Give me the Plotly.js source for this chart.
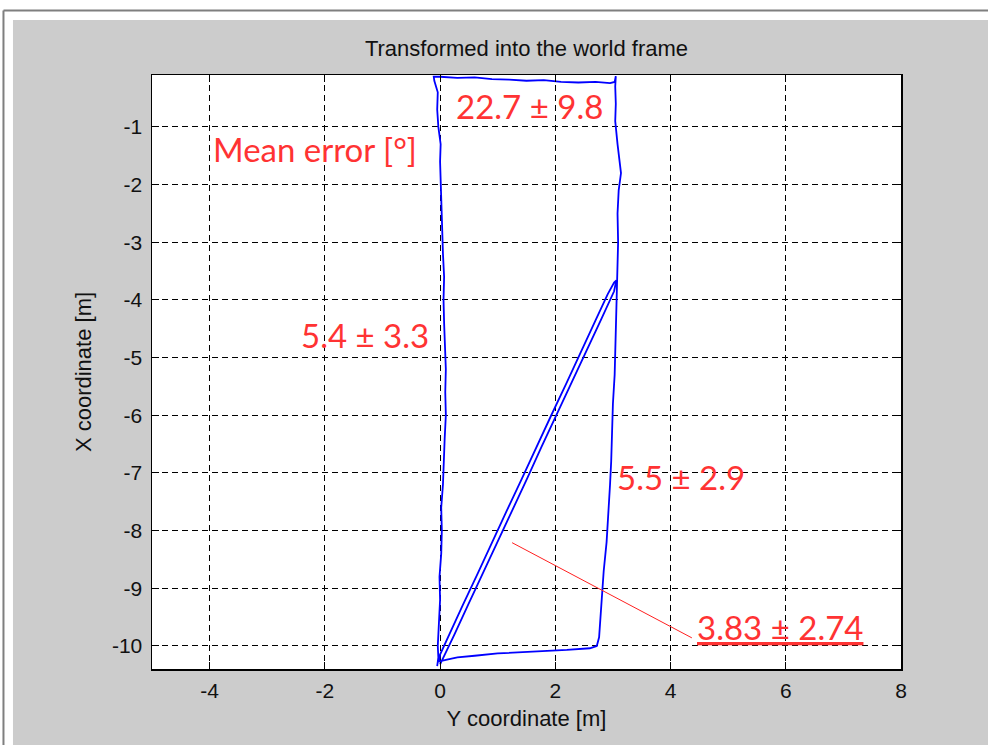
<!DOCTYPE html>
<html>
<head>
<meta charset="utf-8">
<script src="https://cdn.plot.ly/plotly-3.0.1.min.js"></script>
<style>html,body{margin:0;padding:0;background:#fff;}#chart{width:988px;height:745px;}</style>
</head>
<body>
<div id="chart"></div>
<script>
// Trajectory (horizontal axis = Y coordinate, vertical axis = X coordinate), metres
const yCoord = [
  -0.05,-0.03,-0.04,-0.02,0.00,-0.01,0.02,0.03,0.02,0.05,0.06,0.08,0.10,0.09,0.10,0.08,0.07,0.06,0.07,0.05,0.04,0.03,0.02,0.00,0.01,-0.03,-0.05,-0.04,-0.10,-0.11,
  0.00,0.30,0.60,0.90,1.20,1.50,1.80,2.10,2.40,2.70,2.95,3.03,3.05,3.04,
  3.05,3.04,3.08,3.12,3.14,3.10,3.08,3.09,3.08,3.07,3.06,3.04,3.03,3.00,2.99,2.97,2.95,2.92,2.89,2.84,2.81,2.79,2.76,2.72,2.60,
  2.20,1.80,1.40,1.00,0.60,0.30,0.10,-0.02,
  0.00,0.18,0.39,0.65,0.90,1.16,1.42,1.67,1.93,2.19,2.44,2.70,2.91,3.02,3.06,
  3.02,2.79,2.53,2.28,2.02,1.76,1.51,1.25,0.99,0.74,0.48,0.25,0.06,0.00
];
const xCoord = [
  -10.35,-10.20,-10.00,-9.60,-9.20,-8.80,-8.40,-8.00,-7.60,-7.20,-6.80,-6.40,-6.00,-5.60,-5.20,-4.80,-4.40,-4.00,-3.60,-3.20,-2.80,-2.40,-2.00,-1.60,-1.30,-1.00,-0.70,-0.40,-0.20,-0.13,
  -0.13,-0.15,-0.14,-0.17,-0.18,-0.20,-0.19,-0.22,-0.23,-0.22,-0.24,-0.22,-0.12,-0.30,
  -0.60,-0.90,-1.30,-1.60,-1.80,-2.10,-2.50,-3.00,-3.40,-3.80,-4.30,-4.80,-5.30,-5.80,-6.30,-6.80,-7.20,-7.70,-8.20,-8.70,-9.10,-9.50,-9.85,-10.00,-10.04,
  -10.07,-10.09,-10.11,-10.13,-10.17,-10.20,-10.24,-10.27,
  -10.15,-9.75,-9.30,-8.75,-8.20,-7.65,-7.10,-6.55,-6.00,-5.45,-4.90,-4.35,-3.90,-3.70,-3.66,
  -3.85,-4.35,-4.90,-5.45,-6.00,-6.55,-7.10,-7.65,-8.20,-8.75,-9.30,-9.80,-10.20,-10.32
];

// Axis ticks
const xTicks = [-4, -2, 0, 2, 4, 6, 8];
const yTicks = [-10, -9, -8, -7, -6, -5, -4, -3, -2, -1];

// Error labels (text and anchor positions in data units)
const labelText = ["22.7 ± 9.8", "Mean error [°]", "5.4 ± 3.3", "5.5 ± 2.9", "<u>3.83 ± 2.74</u>"];
const labelX = [1.56, -2.17, -1.30, 4.18, 5.90];
const labelY = [-0.64, -1.39, -4.61, -7.07, -9.67];

// Pointer line for the diagonal label
const pointerX = [1.25, 4.37];
const pointerY = [-8.21, -9.86];

const trace = {
  type: 'scatter', mode: 'lines',
  x: yCoord, y: xCoord,
  line: {color: '#0000ff', width: 1.8},
  hoverinfo: 'skip', showlegend: false
};

const pointer = {
  type: 'scatter', mode: 'lines',
  x: pointerX, y: pointerY,
  line: {color: '#ff2020', width: 1},
  hoverinfo: 'skip', showlegend: false
};

const annotations = labelText.map((t, i) => ({
  text: t, x: labelX[i], y: labelY[i], xref: 'x', yref: 'y',
  showarrow: false, xanchor: 'center', yanchor: 'middle',
  font: {family: 'Lato, sans-serif', size: 33, color: '#ff3333'}
}));

const tickFont = {family: '"Liberation Sans", Arial, sans-serif', size: 21, color: '#111'};
const labFont = {family: '"Liberation Sans", Arial, sans-serif', size: 22, color: '#111'};

const shapes = [
  {type: 'rect', xref: 'paper', yref: 'paper', x0: -0.21, x1: 1.12, y0: 1.0926, y1: 1.13, fillcolor: '#ffffff', line: {width: 0}, layer: 'above'},
  {type: 'rect', xref: 'paper', yref: 'paper', x0: -0.21, x1: -0.1856, y0: -0.13, y1: 1.13, fillcolor: '#ffffff', line: {width: 0}, layer: 'above'},
  {type: 'line', xref: 'paper', yref: 'paper', x0: -0.1983, x1: 1.12, y0: 1.1086, y1: 1.1086, line: {color: '#7f7f7f', width: 2}, layer: 'above'},
  {type: 'line', xref: 'paper', yref: 'paper', x0: -0.1983, x1: -0.1983, y0: 1.1086, y1: -0.13, line: {color: '#7f7f7f', width: 2}, layer: 'above'}
];

const layout = {
  width: 988, height: 745,
  margin: {l: 152, r: 87, t: 75, b: 76},
  paper_bgcolor: '#cccccc',
  plot_bgcolor: '#ffffff',
  title: {
    text: 'Transformed into the world frame',
    x: 0.5, xref: 'paper', xanchor: 'center',
    y: 1 - 48/745, yref: 'container', yanchor: 'middle',
    font: {family: '"Liberation Sans", Arial, sans-serif', size: 22, color: '#111'}
  },
  xaxis: {
    range: [-5, 8], tickvals: xTicks, ticktext: xTicks.map(String),
    showline: true, linecolor: '#000', linewidth: 1.5, mirror: 'ticks',
    ticks: 'inside', ticklen: 7, tickcolor: '#000', tickwidth: 1,
    showgrid: true, gridcolor: '#000', gridwidth: 1, griddash: '6px,4px',
    zeroline: false, tickfont: tickFont, ticklabelstandoff: 2,
    title: {text: 'Y coordinate [m]', font: labFont, standoff: 10}
  },
  yaxis: {
    range: [-10.4, -0.1], tickvals: yTicks, ticktext: yTicks.map(String),
    showline: true, linecolor: '#000', linewidth: 1.5, mirror: 'ticks',
    ticks: 'inside', ticklen: 7, tickcolor: '#000', tickwidth: 1,
    showgrid: true, gridcolor: '#000', gridwidth: 1, griddash: '6px,4px',
    zeroline: false, tickfont: tickFont, ticklabelstandoff: 4,
    title: {text: 'X coordinate [m]', font: labFont, standoff: 14}
  },
  annotations: annotations,
  shapes: shapes
};

Plotly.newPlot('chart', [trace, pointer], layout, {displayModeBar: false, staticPlot: true});
</script>
</body>
</html>
